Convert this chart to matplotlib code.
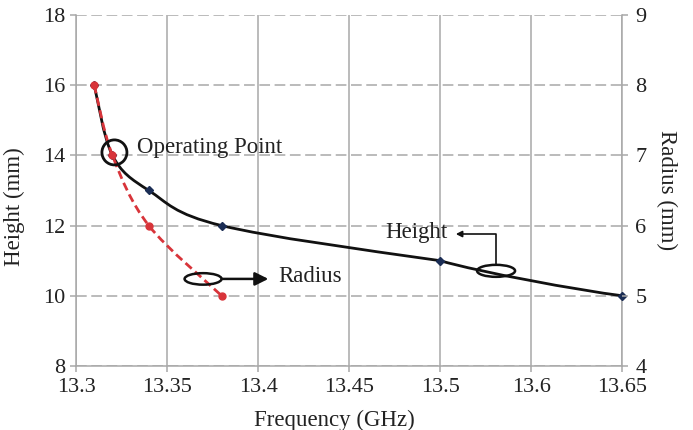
import numpy as np
import matplotlib.pyplot as plt
import matplotlib.transforms as mtransforms
from matplotlib.path import Path
from matplotlib.patches import PathPatch, Ellipse

plt.rcParams['font.family'] = ['Liberation Serif', 'DejaVu Serif']

# frequency axis labels (equally spaced on the plot)
freq_ticks = [13.3, 13.35, 13.4, 13.45, 13.5, 13.6, 13.65]
freq_tick_labels = ['13.3', '13.35', '13.4', '13.45', '13.5', '13.6', '13.65']

# height series (left axis)
height_freq = [13.31, 13.32, 13.34, 13.38, 13.5, 13.65]
height_mm = [16, 14, 13, 12, 11, 10]

# radius series (right axis)
radius_freq = [13.31, 13.32, 13.34, 13.38]
radius_mm = [8, 7, 6, 5]

# operating point
op_freq, op_height = 13.32, 14

GRID = '#a8a8a8'
RED = '#d8343a'
DARK = '#111111'
TXT = '#222222'


def fwd(x):
    return np.interp(x, freq_ticks, np.arange(len(freq_ticks)), left=-1e3, right=1e3)


def inv(x):
    return np.interp(x, np.arange(len(freq_ticks)), freq_ticks)


def smooth_path(xs, ys):
    # Catmull-Rom through the points, written as cubic Bezier segments
    p = np.column_stack([xs, ys]).astype(float)
    n = len(p)
    verts = [p[0]]
    codes = [Path.MOVETO]
    for i in range(n - 1):
        p0 = p[i - 1] if i > 0 else p[i]
        p3 = p[i + 2] if i + 2 < n else p[i + 1]
        c1 = p[i] + (p[i + 1] - p0) / 6.0
        c2 = p[i + 1] - (p3 - p[i]) / 6.0
        verts += [c1, c2, p[i + 1]]
        codes += [Path.CURVE4] * 3
    return Path(verts, codes)


fig = plt.figure(figsize=(6.93, 4.30), dpi=100)
ax = fig.add_axes([0.1097, 0.149, 0.788, 0.816])
ax.set_xscale('function', functions=(fwd, inv))
ax.set_xlim(13.3, 13.65)
ax.set_ylim(8, 18)
ax.set_xticks(freq_ticks)
ax.set_xticklabels(freq_tick_labels)
ax.set_yticks(range(8, 19, 2))

ax.xaxis.grid(True, color=GRID, lw=1.1, ls='-')
ax.yaxis.grid(True, color=GRID, lw=1.1, ls=(0, (7, 3)))
ax.set_axisbelow(True)

ax.spines['top'].set_visible(False)
for side in ['left', 'bottom', 'right']:
    ax.spines[side].set_color(GRID)
    ax.spines[side].set_linewidth(1.1)

ax.tick_params(axis='both', colors=GRID, labelcolor=TXT, labelsize=16, length=4.5, width=1.1)
ax.tick_params(axis='x', pad=4)
ax.tick_params(axis='y', pad=3)

ax.set_xlabel('Frequency (GHz)', fontsize=16.5, color=TXT)
ax.xaxis.set_label_coords(0.473, -0.125)
ax.set_ylabel('Height (mm)', fontsize=16.5, color=TXT)
ax.yaxis.set_label_coords(-0.093, 0.455)

# height curve
ax.add_patch(PathPatch(smooth_path(height_freq, height_mm), fill=False,
                       edgecolor=DARK, lw=2.0, zorder=3))
ax.plot(height_freq, height_mm, ls='none', marker='D', ms=3.8,
        color='#1b2d55', zorder=4, clip_on=False)

# radius curve on the right axis (its spine comes from the left-axis frame)
ax2 = ax.twinx()
ax2.set_ylim(4, 9)
ax2.set_yticks(range(4, 10))
for side in ['top', 'left', 'bottom', 'right']:
    ax2.spines[side].set_visible(False)
ax2.tick_params(axis='y', colors=GRID, labelcolor=TXT, labelsize=16,
                length=4.5, width=1.1, pad=5)
ax2.set_ylabel('Radius (mm)', fontsize=16.5, color=TXT, rotation=270)
ax2.yaxis.set_label_coords(1.1, 0.5)

ax2.add_patch(PathPatch(smooth_path(radius_freq, radius_mm), fill=False,
                        edgecolor=RED, lw=2.0, ls=(0, (3, 1.6)), zorder=3))
ax2.plot(radius_freq, radius_mm, ls='none', marker='o', ms=5,
         color=RED, zorder=4, clip_on=False)


def at(x, y):
    # inch-sized shapes anchored at a data point of the left axis
    return fig.dpi_scale_trans + mtransforms.ScaledTranslation(x, y, ax.transData)


def shifted(dx, dy):
    return mtransforms.offset_copy(ax.transData, fig=fig, x=dx, y=dy, units='points')


# operating point marker
ax2.add_patch(Ellipse((0.02, 0.03), 0.25, 0.25, fill=False, edgecolor=DARK,
                      lw=2.0, transform=at(op_freq, op_height), zorder=5))
ax2.annotate('Operating Point', xy=(op_freq, op_height), xycoords=ax.transData,
             xytext=(18, 2), textcoords='offset points', fontsize=16.5,
             color=TXT, va='baseline', ha='left')

# radius callout
rx, ry = 13.3698, 10.48
ax2.add_patch(Ellipse((0, 0), 0.37, 0.115, fill=False, edgecolor=DARK,
                      lw=1.8, transform=at(rx, ry), zorder=5))
ax2.annotate('', xy=(rx, ry), xycoords=shifted(47, 0),
             xytext=(-33.5, 0), textcoords='offset points',
             arrowprops=dict(arrowstyle='-|>', color=DARK, lw=1.8,
                             mutation_scale=20, shrinkA=0, shrinkB=0))
ax2.annotate('Radius', xy=(rx, ry), xycoords=ax.transData, xytext=(54, -2.5),
             textcoords='offset points', fontsize=16.5, color=TXT,
             va='baseline', ha='left')

# height callout
hx, hy = 13.5615, 10.71
ax2.add_patch(Ellipse((0, 0), 0.38, 0.12, fill=False, edgecolor=DARK,
                      lw=1.8, transform=at(hx, hy), zorder=5))
ax2.annotate('', xy=(hx, hy), xycoords=shifted(-29, 26.5),
             xytext=(29, -22.2), textcoords='offset points',
             arrowprops=dict(arrowstyle='-|>', color=DARK, lw=1.2,
                             mutation_scale=9, shrinkA=0, shrinkB=0,
                             connectionstyle='angle,angleA=90,angleB=0,rad=0'))
ax2.annotate('Height', xy=(hx, hy), xycoords=ax.transData, xytext=(-35, 23.5),
             textcoords='offset points', fontsize=16.5, color=TXT,
             va='baseline', ha='right')

plt.savefig('out.png', dpi=100)
